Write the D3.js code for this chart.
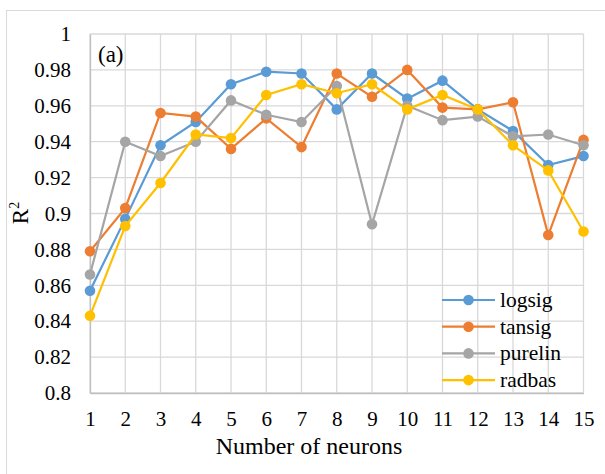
<!DOCTYPE html>
<html>
<head>
<meta charset="utf-8">
<script src="https://cdn.jsdelivr.net/npm/d3@7"></script>
<style>
  body { margin: 0; background: #fff; }
</style>
</head>
<body>
<div id="chart"></div>
<script>
// neurons on the x axis
const neurons = [1, 2, 3, 4, 5, 6, 7, 8, 9, 10, 11, 12, 13, 14, 15];
const yTicks = [0.8, 0.82, 0.84, 0.86, 0.88, 0.9, 0.92, 0.94, 0.96, 0.98, 1];

// R^2 per transfer function
const logsig  = [0.857, 0.897, 0.938, 0.951, 0.972, 0.979, 0.978, 0.958, 0.978, 0.964, 0.974, 0.958, 0.946, 0.927, 0.932];
const tansig  = [0.879, 0.903, 0.956, 0.954, 0.936, 0.953, 0.937, 0.978, 0.965, 0.980, 0.959, 0.958, 0.962, 0.888, 0.941];
const purelin = [0.866, 0.940, 0.932, 0.940, 0.963, 0.955, 0.951, 0.971, 0.894, 0.960, 0.952, 0.954, 0.943, 0.944, 0.938];
const radbas  = [0.843, 0.893, 0.917, 0.944, 0.942, 0.966, 0.972, 0.967, 0.972, 0.958, 0.966, 0.958, 0.938, 0.924, 0.890];

const seriesNames = ['logsig', 'tansig', 'purelin', 'radbas'];
const seriesValues = [logsig, tansig, purelin, radbas];
const colors = ['#5B9BD5', '#ED7D31', '#A5A5A5', '#FFC000'];

const serif = "'Liberation Serif', 'Times New Roman', serif";

const width = 605;
const height = 474;
const margin = { top: 34, right: 21.5, bottom: 81, left: 90 };

const svg = d3.select('#chart').append('svg')
    .attr('width', width)
    .attr('height', height)
    .style('font-family', serif);

// chart area frame
svg.append('rect')
    .attr('x', 6.5).attr('y', 10.5)
    .attr('width', 620).attr('height', 480)
    .attr('fill', 'none')
    .attr('stroke', '#d9d9d9');

const x = d3.scalePoint()
    .domain(neurons)
    .range([margin.left, width - margin.right]);

const y = d3.scaleLinear()
    .domain([0.8, 1])
    .range([height - margin.bottom, margin.top]);

// gridlines
svg.append('g')
    .selectAll('line')
    .data(yTicks)
    .enter().append('line')
    .attr('x1', margin.left).attr('x2', width - margin.right)
    .attr('y1', d => y(d)).attr('y2', d => y(d))
    .attr('stroke', '#d9d9d9')
    .attr('stroke-width', 1.3);

svg.append('g')
    .selectAll('line')
    .data(neurons)
    .enter().append('line')
    .attr('x1', d => x(d)).attr('x2', d => x(d))
    .attr('y1', margin.top).attr('y2', height - margin.bottom)
    .attr('stroke', '#d9d9d9')
    .attr('stroke-width', 1.3);

// axes
const xAxis = svg.append('g')
    .attr('transform', `translate(0,${height - margin.bottom})`)
    .call(d3.axisBottom(x).tickSize(0).tickPadding(18));
xAxis.attr('font-family', serif);
xAxis.select('.domain').attr('stroke', '#bfbfbf').attr('stroke-width', 1.3);
xAxis.selectAll('text').style('font-size', '21px').style('font-family', serif).attr('fill', '#000');

const yAxis = svg.append('g')
    .attr('transform', `translate(${margin.left},0)`)
    .call(d3.axisLeft(y).tickValues(yTicks).tickSize(0).tickPadding(19)
        .tickFormat(d => d3.format('')(+d.toFixed(2))));
yAxis.attr('font-family', serif);
yAxis.select('.domain').attr('stroke', '#bfbfbf').attr('stroke-width', 1.3);
yAxis.selectAll('text').style('font-size', '21px').style('font-family', serif).attr('fill', '#000');

// lines and markers
const line = d3.line()
    .x((d, i) => x(neurons[i]))
    .y(d => y(d));

seriesValues.forEach((vals, k) => {
    svg.append('path')
        .datum(vals)
        .attr('d', line)
        .attr('fill', 'none')
        .attr('stroke', colors[k])
        .attr('stroke-width', 2.2);
    svg.append('g')
        .selectAll('circle')
        .data(vals)
        .enter().append('circle')
        .attr('cx', (d, i) => x(neurons[i]))
        .attr('cy', d => y(d))
        .attr('r', 5.3)
        .attr('fill', colors[k]);
});

// axis titles
svg.append('text')
    .attr('x', 309)
    .attr('y', 454)
    .attr('text-anchor', 'middle')
    .style('font-size', '24px')
    .text('Number of neurons');

const yTitle = svg.append('text')
    .attr('transform', 'translate(28,213) rotate(-90)')
    .attr('text-anchor', 'middle')
    .style('font-size', '23px');
yTitle.append('tspan').text('R');
yTitle.append('tspan').attr('dy', -9).style('font-size', '14px').text('2');

// panel tag
svg.append('text')
    .attr('x', 98).attr('y', 62)
    .style('font-size', '23px')
    .text('(a)');

// legend
const legend = svg.append('g')
    .selectAll('g')
    .data(seriesNames)
    .enter().append('g')
    .attr('transform', (d, i) => `translate(442,${300 + i * 26.7})`);
legend.append('line')
    .attr('x1', 0).attr('x2', 53)
    .attr('stroke', (d, i) => colors[i])
    .attr('stroke-width', 2.2);
legend.append('circle')
    .attr('cx', 26.5).attr('r', 5.3)
    .attr('fill', (d, i) => colors[i]);
legend.append('text')
    .attr('x', 58).attr('y', 7)
    .style('font-size', '21.5px')
    .text(d => d);
</script>
</body>
</html>
